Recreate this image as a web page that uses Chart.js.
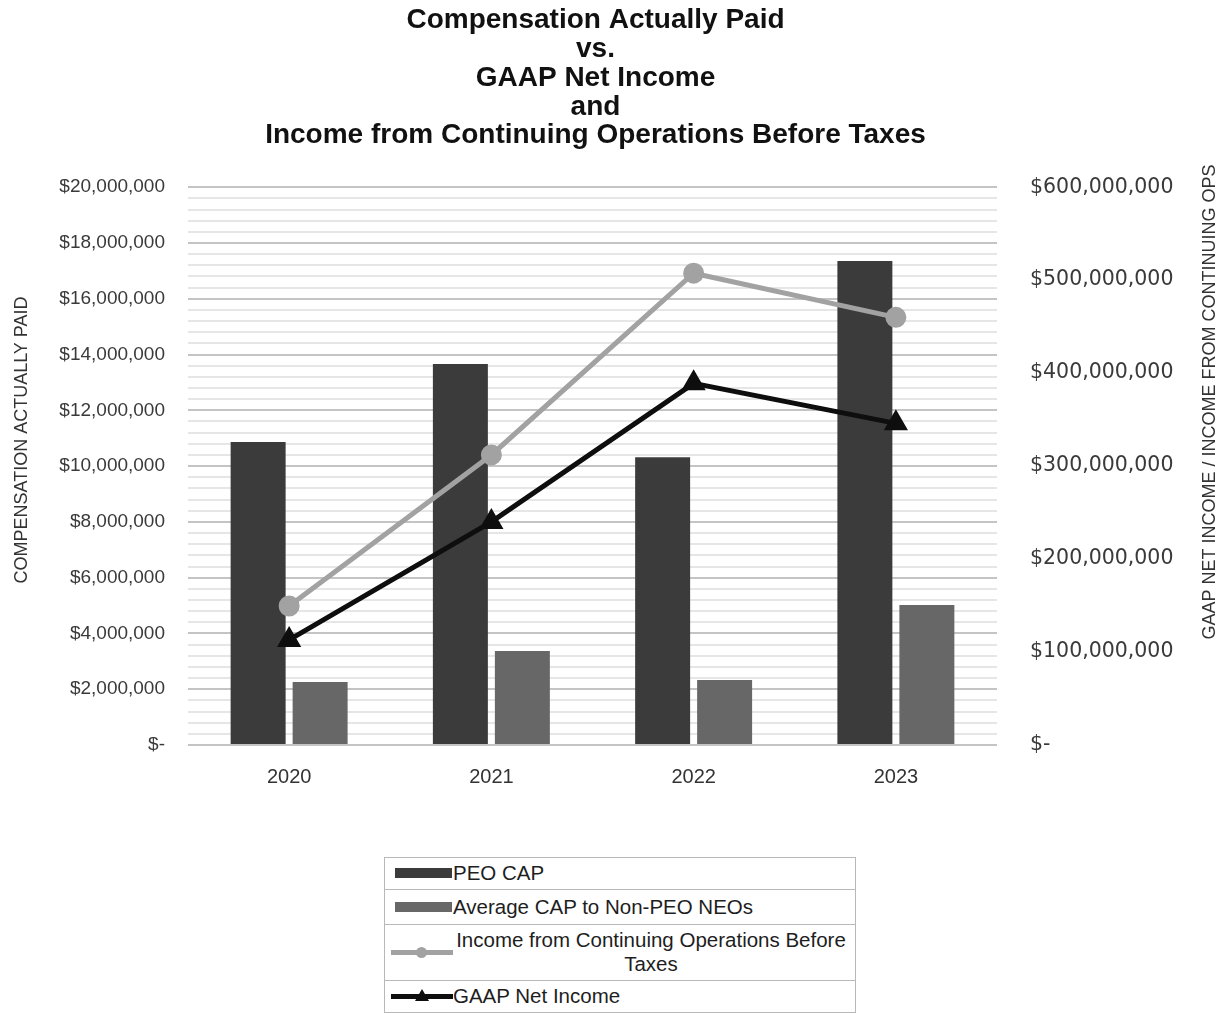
<!DOCTYPE html>
<html>
<head>
<meta charset="utf-8">
<script src="https://cdn.jsdelivr.net/npm/chart.js@4"></script>
<style>
    body { margin: 0; background: #fff; font-family: 'Liberation Sans', Arial, sans-serif; }
    #wrap { position: relative; width: 1231px; height: 1013px; overflow: hidden; }
    #chartBox { position: absolute; left: 0; top: 0; width: 1231px; height: 800px; }
    #legend {
        position: absolute; left: 384px; top: 857px; width: 470px;
        border: 1.5px solid #b8b8b8; border-bottom: none;
        color: #1e1e1e; font-size: 20.5px;
    }
    #legend .row { display: flex; align-items: center; border-bottom: 1.5px solid #b8b8b8; padding: 3px 0 4px 6px; }
    #legend .row:nth-child(2) { padding-top: 5px; padding-bottom: 5px; }
    #legend .swatch { position: relative; width: 62px; height: 20px; flex: none; }
    #legend .label { display: inline-block; max-width: 396px; text-align: center; line-height: 24px; }
</style>
</head>
<body>
<div id="wrap">
    <div id="chartBox"><canvas id="capChart"></canvas></div>
    <div id="legend"></div>
</div>
<script>
// Fiscal years and values
const years = ['2020', '2021', '2022', '2023'];
const peoCap = [10860000, 13660000, 10320000, 17350000];
const avgNonPeoCap = [2260000, 3370000, 2330000, 5020000];
const incomeContOps = [149500000, 312000000, 507500000, 460000000];
const gaapNetIncome = [113000000, 240000000, 389000000, 346000000];

const titleLines = [
    'Compensation Actually Paid',
    'vs.',
    'GAAP Net Income',
    'and',
    'Income from Continuing Operations Before Taxes'
];
const leftAxisTitle = 'COMPENSATION ACTUALLY PAID';
const rightAxisTitle = 'GAAP NET INCOME / INCOME FROM CONTINUING OPS';

function money(value) {
    if (value === 0) return '$-';
    return '$' + value.toLocaleString('en-US');
}

// Rotated axis titles, both reading bottom to top
const axisTitles = {
    id: 'axisTitles',
    afterDraw(chart) {
        const ctx = chart.ctx;
        const drawTitle = (text, x, y) => {
            ctx.save();
            ctx.translate(x, y);
            ctx.rotate(-Math.PI / 2);
            ctx.font = "18px 'Liberation Sans', Arial, sans-serif";
            ctx.fillStyle = '#333';
            ctx.textAlign = 'center';
            ctx.textBaseline = 'middle';
            ctx.fillText(text, 0, 0);
            ctx.restore();
        };
        drawTitle(leftAxisTitle, 22, 440);
        drawTitle(rightAxisTitle, 1210, 402);
    }
};

function initChart() {
    const ctx = document.getElementById('capChart').getContext('2d');
    const chart = new Chart(ctx, {
        data: {
            labels: years,
            datasets: [
                {
                    type: 'bar',
                    label: 'PEO CAP',
                    data: peoCap,
                    backgroundColor: '#3b3b3b',
                    yAxisID: 'y',
                    order: 1,
                    barPercentage: 0.887,
                    categoryPercentage: 0.613
                },
                {
                    type: 'bar',
                    label: 'Average CAP to Non-PEO NEOs',
                    data: avgNonPeoCap,
                    backgroundColor: '#676767',
                    yAxisID: 'y',
                    order: 1,
                    barPercentage: 0.887,
                    categoryPercentage: 0.613
                },
                {
                    type: 'line',
                    label: 'Income from Continuing Operations Before Taxes',
                    data: incomeContOps,
                    borderColor: '#a2a2a2',
                    backgroundColor: '#a2a2a2',
                    borderWidth: 5,
                    pointStyle: 'circle',
                    pointRadius: 8,
                    yAxisID: 'y1',
                    order: 0
                },
                {
                    type: 'line',
                    label: 'GAAP Net Income',
                    data: gaapNetIncome,
                    borderColor: '#0e0e0e',
                    backgroundColor: '#0e0e0e',
                    borderWidth: 5,
                    pointStyle: 'triangle',
                    pointRadius: 9,
                    yAxisID: 'y1',
                    order: 0
                }
            ]
        },
        options: {
            responsive: true,
            maintainAspectRatio: false,
            animation: false,
            layout: { padding: { left: 0, right: 40, top: 0, bottom: 0 } },
            plugins: {
                legend: { display: false },
                tooltip: { enabled: false },
                title: {
                    display: true,
                    text: titleLines,
                    color: '#111',
                    font: { family: "'Liberation Sans', Arial, sans-serif", size: 28, weight: 'bold', lineHeight: 1.03 },
                    padding: { top: 6, bottom: 37 }
                }
            },
            scales: {
                x: {
                    grid: { display: false },
                    border: { display: false },
                    ticks: {
                        color: '#333',
                        font: { family: "'Liberation Sans', Arial, sans-serif", size: 20 },
                        padding: 12
                    },
                    afterFit: (scale) => { scale.height = 55; }
                },
                y: {
                    position: 'left',
                    min: 0,
                    max: 20000000,
                    border: { display: false },
                    grid: {
                        drawTicks: false,
                        lineWidth: 2,
                        color: (c) => (c.tick.value % 2000000 === 0 ? '#c4c4c4' : '#e6e6e6')
                    },
                    ticks: {
                        stepSize: 400000,
                        autoSkip: false,
                        padding: 23,
                        color: '#3a3a3a',
                        font: { family: "'Liberation Sans', Arial, sans-serif", size: 19 },
                        callback: (value) => (value % 2000000 === 0 ? money(value) : '')
                    },
                    afterFit: (scale) => { scale.width = 188; }
                },
                y1: {
                    position: 'right',
                    min: 0,
                    max: 600000000,
                    border: { display: false },
                    grid: { display: false, drawTicks: false },
                    ticks: {
                        stepSize: 100000000,
                        padding: 33,
                        color: '#3a3a3a',
                        font: { family: "'DejaVu Sans', sans-serif", size: 20.5 },
                        callback: (value) => money(value)
                    },
                    afterFit: (scale) => { scale.width = 194; }
                }
            }
        },
        plugins: [axisTitles]
    });

    buildLegend(chart);
}

// Boxed legend under the chart, one row per dataset
function buildLegend(chart) {
    const legend = document.getElementById('legend');
    chart.data.datasets.forEach((ds) => {
        const row = document.createElement('div');
        row.className = 'row';
        const swatch = document.createElement('div');
        swatch.className = 'swatch';
        if (ds.type === 'bar') {
            swatch.innerHTML = '<div style="position:absolute;left:4px;top:5px;width:57px;height:10px;background:' + ds.backgroundColor + '"></div>';
        } else {
            let marker;
            if (ds.pointStyle === 'triangle') {
                marker = '<div style="position:absolute;left:24px;top:3px;width:0;height:0;border-left:7px solid transparent;border-right:7px solid transparent;border-bottom:12px solid ' + ds.borderColor + '"></div>';
            } else {
                marker = '<div style="position:absolute;left:25px;top:5px;width:11px;height:11px;border-radius:50%;background:' + ds.borderColor + '"></div>';
            }
            swatch.innerHTML = '<div style="position:absolute;left:0;top:8px;width:62px;height:5px;background:' + ds.borderColor + '"></div>' + marker;
        }
        const label = document.createElement('span');
        label.className = 'label';
        label.textContent = ds.label;
        row.appendChild(swatch);
        row.appendChild(label);
        legend.appendChild(row);
    });
}

document.addEventListener('DOMContentLoaded', function() {
    initChart();
});
</script>
</body>
</html>
